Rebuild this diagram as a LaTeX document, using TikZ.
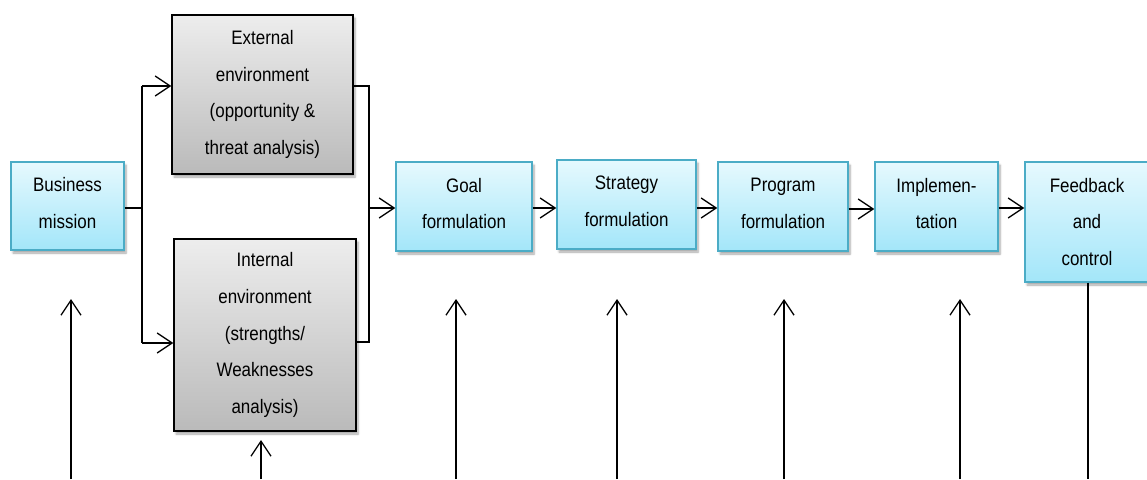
\documentclass[tikz,border=0pt]{standalone}
\usepackage{fontspec}
\setmainfont{Liberation Sans}[FakeStretch=0.87]
\usetikzlibrary{arrows.meta,shadows.blur}

\definecolor{bluefillTop}{HTML}{E6F9FE}
\definecolor{bluefillBot}{HTML}{A3E6F9}
\definecolor{blueline}{HTML}{4BACC6}
\definecolor{grayTop}{HTML}{EDEDED}
\definecolor{grayBot}{HTML}{BABABA}

\tikzset{
  box/.style={rectangle, inner sep=0pt, align=center,
    font=\fontsize{19.5}{36.8}\selectfont,
    blur shadow={shadow xshift=2pt, shadow yshift=-3pt, shadow blur steps=6, shadow opacity=35}},
  bluebox/.style={box, draw=blueline, line width=1.4pt, top color=bluefillTop, bottom color=bluefillBot},
  graybox/.style={box, draw=black, line width=1.4pt, top color=grayTop, bottom color=grayBot},
  raised/.style={text depth=6pt},
  link/.style={draw=black, line width=1.3pt},
  tip/.style={link, -{Straight Barb[length=15pt,width=20pt,line width=1.3pt]}}
}

\begin{document}
\begin{tikzpicture}[x=1pt,y=-1pt]
\useasboundingbox (0,0) rectangle (1147,479);

% process boxes
\node[bluebox, raised, minimum width=113pt, minimum height=88pt] (bm)    at (67.5,206)   {Business\\mission};
\node[graybox, minimum width=181pt, minimum height=159pt] (ext)  at (262.5,94.5) {External\\environment\\(opportunity \&\\threat analysis)};
\node[graybox, minimum width=182pt, minimum height=192pt] (int)  at (265,335)    {Internal\\environment\\(strengths/\\Weaknesses\\analysis)};
\node[bluebox, raised, minimum width=136pt, minimum height=89pt] (goal)  at (464,206.5)  {Goal\\formulation};
\node[bluebox, raised, minimum width=139pt, minimum height=89pt] (strat) at (626.5,204.5){Strategy\\formulation};
\node[bluebox, raised, minimum width=130pt, minimum height=89pt] (prog)  at (783,206.5)  {Program\\formulation};
\node[bluebox, raised, minimum width=123pt, minimum height=89pt] (impl)  at (936.5,206.5){Implemen-\\tation};
\node[bluebox, minimum width=124pt, minimum height=120pt, text width=124pt] (fb) at (1087,222) {Feedback\\and\\control};

% branch from the mission to both environment analyses
\coordinate (split)  at (142,208);
\coordinate (splitT) at (142,86);
\coordinate (splitB) at (142,343);
\draw[link] (bm.east |- split) -- (split);
\draw[link] (splitT) -- (splitB);
\draw[tip] (splitT) -- (ext.west |- splitT);
\draw[tip] (splitB) -- (int.west |- splitB);

% both analyses join into goal formulation
\coordinate (joinT) at (369,86);
\coordinate (joinB) at (369,342);
\coordinate (join)  at (369,208);
\draw[link] (ext.east |- joinT) -- (joinT) -- (joinB) -- (int.east |- joinB);
\draw[tip] (join) -- (goal.west |- join);

% main chain
\draw[tip] (goal.east |- 0,208) -- (strat.west |- 0,208);
\draw[tip] (strat.east |- 0,208) -- (prog.west |- 0,208);
\draw[tip] (prog.east |- 0,209) -- (impl.west |- 0,209);
\draw[tip] (impl.east |- 0,208) -- (fb.west |- 0,208);

% feedback returns along the bottom
\coordinate (b1) at (71,479);   \coordinate (t1) at (71,299);
\coordinate (b2) at (261,479);  \coordinate (t2) at (261,440);
\coordinate (b3) at (456,479);  \coordinate (t3) at (456,299);
\coordinate (b4) at (617,479);  \coordinate (t4) at (617,299);
\coordinate (b5) at (784,479);  \coordinate (t5) at (784,299);
\coordinate (b6) at (960,479);  \coordinate (t6) at (960,299);
\coordinate (b7) at (1088,479);
\draw[tip] (b1) -- (t1);
\draw[tip] (b2) -- (t2);
\draw[tip] (b3) -- (t3);
\draw[tip] (b4) -- (t4);
\draw[tip] (b5) -- (t5);
\draw[tip] (b6) -- (t6);
\draw[link] (fb.south -| b7) -- (b7);
\end{tikzpicture}
\end{document}
